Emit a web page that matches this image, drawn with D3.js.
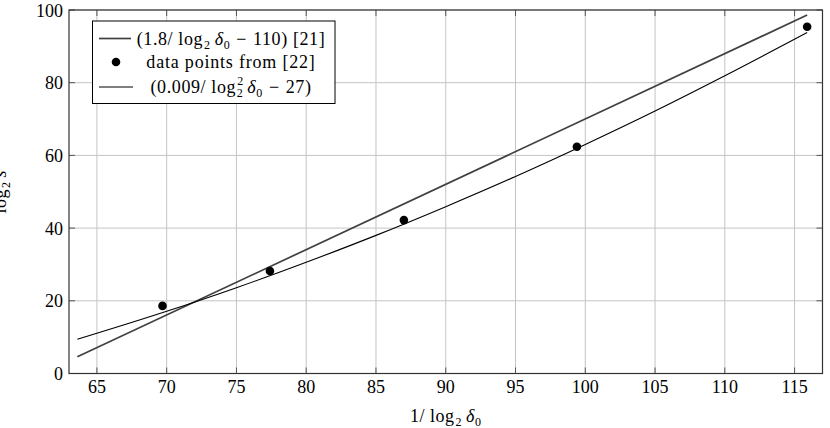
<!DOCTYPE html>
<html>
<head>
<meta charset="utf-8">
<script src="https://cdn.jsdelivr.net/npm/d3@7"></script>
<style>
  body { margin: 0; background: #fff; }
  svg text { font-family: "Liberation Serif", "Times New Roman", serif; fill: #000; }
</style>
</head>
<body>
<div id="chart"></div>
<script>
  // ticks
  const xTicks = [65, 70, 75, 80, 85, 90, 95, 100, 105, 110, 115];
  const yTicks = [0, 20, 40, 60, 80, 100];

  // data points from [22]
  const pointsX = [69.7, 77.4, 87.0, 99.4, 115.9];
  const pointsY = [18.6, 28.2, 42.2, 62.4, 95.4];

  // straight fit
  const fitLinX = [63.6, 115.9];
  const fitLinY = [4.6, 98.6];

  // quadratic fit
  const fitQuadX = [63.6, 70, 75, 80, 85, 90, 95, 100, 105, 110, 115.9];
  const fitQuadY = [9.4, 17.1, 23.6, 30.6, 38.0, 45.9, 54.2, 63.0, 72.2, 81.9, 93.8];

  const width = 830, height = 428;
  const margin = { top: 10, right: 7.5, bottom: 54.5, left: 69 };

  const svg = d3.select("#chart").append("svg")
    .attr("width", width)
    .attr("height", height);

  const x = d3.scaleLinear().domain([63, 117]).range([margin.left, width - margin.right]);
  const y = d3.scaleLinear().domain([0, 100]).range([height - margin.bottom, margin.top]);

  const x0 = margin.left, x1 = width - margin.right;
  const y0 = height - margin.bottom, y1 = margin.top;

  // grid
  const grid = svg.append("g").attr("stroke", "#c4c4c4").attr("stroke-width", 1);
  grid.selectAll(".gx").data(xTicks).enter().append("line")
    .attr("x1", d => x(d)).attr("x2", d => x(d))
    .attr("y1", y0).attr("y2", y1);
  grid.selectAll(".gy").data(yTicks).enter().append("line")
    .attr("x1", x0).attr("x2", x1)
    .attr("y1", d => y(d)).attr("y2", d => y(d));

  // inward tick marks on all four sides
  const tk = svg.append("g").attr("stroke", "#555").attr("stroke-width", 1);
  const tl = 6;
  xTicks.forEach(d => {
    tk.append("line").attr("x1", x(d)).attr("x2", x(d)).attr("y1", y0).attr("y2", y0 - tl);
    tk.append("line").attr("x1", x(d)).attr("x2", x(d)).attr("y1", y1).attr("y2", y1 + tl);
  });
  yTicks.forEach(d => {
    tk.append("line").attr("x1", x0).attr("x2", x0 + tl).attr("y1", y(d)).attr("y2", y(d));
    tk.append("line").attr("x1", x1).attr("x2", x1 - tl).attr("y1", y(d)).attr("y2", y(d));
  });

  // tick labels
  svg.append("g").selectAll("text").data(xTicks).enter().append("text")
    .attr("x", d => x(d)).attr("y", y0 + 19)
    .attr("text-anchor", "middle")
    .attr("font-size", 18)
    .text(d => d);
  svg.append("g").selectAll("text").data(yTicks).enter().append("text")
    .attr("x", x0 - 6).attr("y", d => y(d) + 6.5)
    .attr("text-anchor", "end")
    .attr("font-size", 18)
    .text(d => d);

  // small helper for math-ish labels: parts are [text, italic?, dy, size, dx]
  function mathText(sel, parts) {
    parts.forEach(p => {
      const t = sel.append("tspan").text(p[0]);
      if (p[1]) t.attr("font-style", "italic");
      if (p[2]) t.attr("dy", p[2]);
      if (p[3]) t.attr("font-size", p[3]);
      if (p[4]) t.attr("dx", p[4]);
    });
  }

  // lines
  const line = d3.line().x(d => x(d[0])).y(d => y(d[1]));
  const curve = d3.line().x(d => x(d[0])).y(d => y(d[1])).curve(d3.curveMonotoneX);

  svg.append("path")
    .datum(d3.zip(fitLinX, fitLinY))
    .attr("d", line)
    .attr("fill", "none")
    .attr("stroke", "#404040")
    .attr("stroke-width", 1.7);

  svg.append("path")
    .datum(d3.zip(fitQuadX, fitQuadY))
    .attr("d", curve)
    .attr("fill", "none")
    .attr("stroke", "#000")
    .attr("stroke-width", 1.1);

  svg.append("g").selectAll("circle")
    .data(d3.zip(pointsX, pointsY))
    .enter().append("circle")
    .attr("cx", d => x(d[0]))
    .attr("cy", d => y(d[1]))
    .attr("r", 4.3)
    .attr("fill", "#000");

  // frame
  svg.append("rect")
    .attr("x", x0).attr("y", y1)
    .attr("width", x1 - x0).attr("height", y0 - y1)
    .attr("fill", "none")
    .attr("stroke", "#333")
    .attr("stroke-width", 1.2);

  // legend
  const lg = svg.append("g");
  lg.append("rect")
    .attr("x", 92.5).attr("y", 21)
    .attr("width", 242.5).attr("height", 82.5)
    .attr("fill", "#fff")
    .attr("stroke", "#000")
    .attr("stroke-width", 1);

  const rowY = [38.5, 62, 87];
  const textCx = 231;

  lg.append("line").attr("x1", 99).attr("x2", 131).attr("y1", rowY[0]).attr("y2", rowY[0])
    .attr("stroke", "#404040").attr("stroke-width", 1.7);
  lg.append("circle").attr("cx", 116).attr("cy", rowY[1]).attr("r", 4.3).attr("fill", "#000");
  lg.append("line").attr("x1", 99).attr("x2", 133).attr("y1", rowY[2]).attr("y2", rowY[2])
    .attr("stroke", "#000").attr("stroke-width", 1.1);

  const t1 = lg.append("text").attr("x", textCx).attr("y", rowY[0] + 6)
    .attr("text-anchor", "middle").attr("font-size", 18).attr("letter-spacing", 0.6);
  mathText(t1, [["(1.8/ log"], ["2", false, 4, 12, 1], ["δ", true, -4, null, 4], ["0", false, 4, 12],
    ["−", false, -4, null, 6], ["110) [21]", false, null, null, 6]]);

  lg.append("text").attr("x", textCx).attr("y", rowY[1] + 6)
    .attr("text-anchor", "middle").attr("font-size", 18).attr("letter-spacing", 0.8)
    .text("data points from [22]");

  const t3 = lg.append("text").attr("x", textCx).attr("y", rowY[2] + 6)
    .attr("text-anchor", "middle").attr("font-size", 18).attr("letter-spacing", 0.6);
  mathText(t3, [["(0.009/ log"], ["2", false, -8, 12, 1], ["2", false, 12, 12, -7],
    ["δ", true, -4, null, 4], ["0", false, 4, 12], ["−", false, -4, null, 6], ["27)", false, null, null, 6]]);

  // axis labels
  const xl = svg.append("text").attr("x", (x0 + x1) / 2).attr("y", 422)
    .attr("text-anchor", "middle").attr("font-size", 18).attr("letter-spacing", 0.5);
  mathText(xl, [["1/ log"], ["2", false, 4, 12, 1], ["δ", true, -4, null, 4], ["0", false, 4, 12]]);

  const yl = svg.append("text")
    .attr("transform", `translate(6, ${(y0 + y1) / 2}) rotate(-90)`)
    .attr("text-anchor", "middle").attr("font-size", 18).attr("letter-spacing", 0.5);
  mathText(yl, [["log"], ["2", false, 4, 12, 1], ["s", true, -4, null, 4]]);
</script>
</body>
</html>
